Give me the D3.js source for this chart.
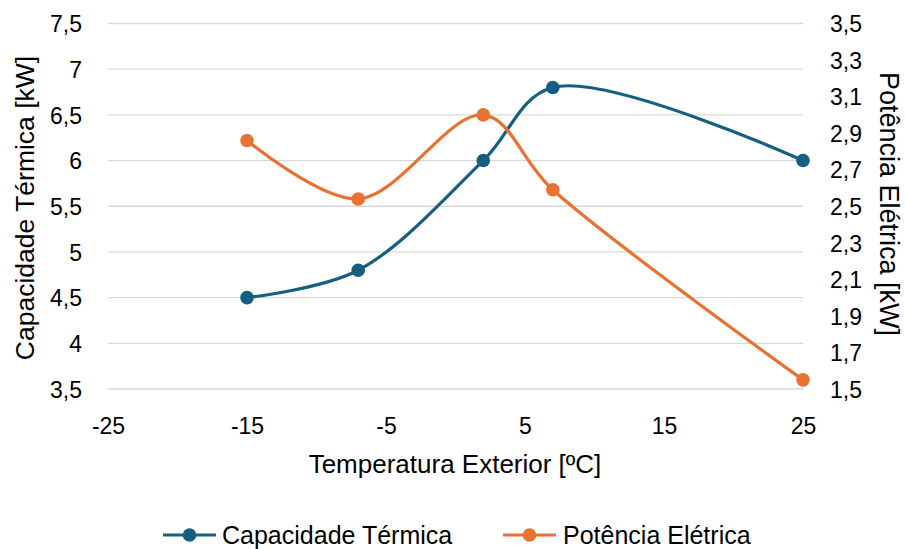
<!DOCTYPE html>
<html>
<head>
<meta charset="utf-8">
<script src="https://cdn.jsdelivr.net/npm/d3@7"></script>
<style>
  html, body { margin: 0; padding: 0; background: #fff; }
  svg text { font-family: "Liberation Sans", Arial, sans-serif; fill: #000; }
</style>
</head>
<body>
<svg id="chart" width="905" height="549"></svg>
<script>
// Outdoor temperature [ºC]
const temperatures = [-15, -7, 2, 7, 25];
// Heating capacity [kW] (left axis)
const capacidade = [4.5, 4.8, 6.0, 6.8, 6.0];
// Electrical power [kW] (right axis)
const potencia = [2.86, 2.54, 3.0, 2.59, 1.55];

const xTicks = [-25, -15, -5, 5, 15, 25];
const yLeftTicks = [3.5, 4, 4.5, 5, 5.5, 6, 6.5, 7, 7.5];
const yRightTicks = [1.5, 1.7, 1.9, 2.1, 2.3, 2.5, 2.7, 2.9, 3.1, 3.3, 3.5];

const seriesNames = ["Capacidade Térmica", "Potência Elétrica"];
const colors = ["#156082", "#E97132"];

const svg = d3.select("#chart");
const plotLeft = 108, plotRight = 803, plotTop = 23.5, plotBottom = 389;

const x = d3.scaleLinear().domain([-25, 25]).range([plotLeft, plotRight]);
const yL = d3.scaleLinear().domain([3.5, 7.5]).range([plotBottom, plotTop]);
const yR = d3.scaleLinear().domain([1.5, 3.5]).range([plotBottom, plotTop]);

const fmt = v => String(v).replace(".", ",");
const tickFont = "23px";

// horizontal gridlines
svg.append("g").selectAll("line").data(yLeftTicks).join("line")
  .attr("x1", plotLeft).attr("x2", plotRight)
  .attr("y1", d => yL(d)).attr("y2", d => yL(d))
  .attr("stroke", "#d9d9d9").attr("stroke-width", 1.3);

// left axis
const gL = svg.append("g").attr("transform", `translate(${plotLeft},0)`)
  .call(d3.axisLeft(yL).tickValues(yLeftTicks).tickFormat(fmt).tickSize(0).tickPadding(26));
gL.select(".domain").remove();
gL.selectAll("text").style("font-size", tickFont).attr("dy", "0.36em");

// right axis
const gR = svg.append("g").attr("transform", `translate(${plotRight},0)`)
  .call(d3.axisRight(yR).tickValues(yRightTicks).tickFormat(fmt).tickSize(0).tickPadding(27));
gR.select(".domain").remove();
gR.selectAll("text").style("font-size", tickFont).attr("dy", "0.36em");

// x axis
const gX = svg.append("g").attr("transform", `translate(0,${plotBottom})`)
  .call(d3.axisBottom(x).tickValues(xTicks).tickFormat(d => String(d)).tickSize(0));
gX.select(".domain").remove();
gX.selectAll("text").style("font-size", tickFont).attr("dy", "0.36em").attr("y", 37);

// axis titles
svg.append("text").attr("x", 455).attr("y", 473).attr("text-anchor", "middle")
  .style("font-size", "26px").text("Temperatura Exterior [ºC]");
svg.append("text").attr("transform", "translate(34,208) rotate(-90)")
  .attr("text-anchor", "middle").style("font-size", "26.5px").text("Capacidade Térmica [kW]");
svg.append("text").attr("transform", "translate(880,204) rotate(90)")
  .attr("text-anchor", "middle").style("font-size", "27px").text("Potência Elétrica [kW]");

// series
const series = [
  { values: capacidade, scale: yL },
  { values: potencia, scale: yR }
];
series.forEach((s, i) => {
  const pts = temperatures.map((t, j) => [x(t), s.scale(s.values[j])]);
  svg.append("path")
    .attr("d", d3.line().curve(d3.curveCatmullRom.alpha(0.5))(pts))
    .attr("fill", "none").attr("stroke", colors[i]).attr("stroke-width", 3.2)
    .attr("stroke-linecap", "round");
  svg.append("g").selectAll("circle").data(pts).join("circle")
    .attr("cx", d => d[0]).attr("cy", d => d[1]).attr("r", 6.8)
    .attr("fill", colors[i]);
});

// legend
const legendY = 535;
const legendItems = [
  { lx: 163, tx: 222 },
  { lx: 503, tx: 563 }
];
legendItems.forEach((p, i) => {
  const g = svg.append("g");
  g.append("line").attr("x1", p.lx).attr("x2", p.lx + 53).attr("y1", legendY).attr("y2", legendY)
    .attr("stroke", colors[i]).attr("stroke-width", 3.2);
  g.append("circle").attr("cx", p.lx + 26.5).attr("cy", legendY).attr("r", 6.8).attr("fill", colors[i]);
  g.append("text").attr("x", p.tx).attr("y", legendY + 8.5)
    .style("font-size", "25px").text(seriesNames[i]);
});
</script>
</body>
</html>
